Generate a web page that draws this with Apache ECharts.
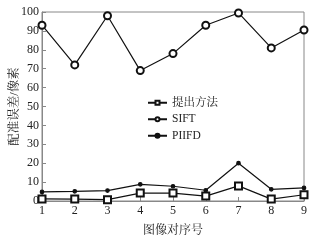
<!DOCTYPE html>
<html><head><meta charset="utf-8">
<script src="https://cdn.jsdelivr.net/npm/echarts@6/dist/echarts.min.js"></script>
<style>html,body{margin:0;padding:0;background:#fff}#c{width:322px;height:243px}</style>
</head><body><div id="c"></div>
<script>
var categories = ['1','2','3','4','5','6','7','8','9'];
var proposed = [1.1, 1.0, 0.7, 4.2, 4.2, 2.6, 8.0, 1.0, 3.3];
var sift = [93, 72, 98, 69, 78, 93, 99.5, 81, 90.5];
var piifd = [4.8, 5.1, 5.5, 8.8, 7.8, 5.7, 20, 6.2, 6.9];
var seriesNames = ['提出方法', 'SIFT', 'PIIFD'];
var xName = '图像对序号';
var yName = '配准误差/像素';

var font = "'Liberation Serif','Noto Serif CJK SC','Noto Sans CJK SC',serif";
var chart = echarts.init(document.getElementById('c'));
function mk(name, data, symbol, size) {
  return {
    name: name, type: 'line', data: data, symbol: symbol, symbolSize: size,
    lineStyle: {color: '#111', width: 1.2},
    itemStyle: {color: '#111', borderColor: '#111', borderWidth: 1.2},
    animation: false
  };
}
chart.setOption({
  backgroundColor: '#fff',
  grid: {left: 42, right: 18, top: 12, bottom: 42, outerBoundsMode: 'none', containLabel: false,
         show: true, borderColor: '#888', borderWidth: 1},
  legend: {
    orient: 'vertical', left: 142, top: 92, itemWidth: 19, itemHeight: 5, itemGap: 5,
    textStyle: {fontFamily: font, fontSize: 11.5, color: '#222'},
    data: seriesNames
  },
  xAxis: {
    type: 'category', data: categories, boundaryGap: false,
    axisLine: {lineStyle: {color: '#888'}},
    axisTick: {inside: true, length: 4, lineStyle: {color: '#888'}},
    axisLabel: {fontFamily: font, fontSize: 12, color: '#222', margin: 4},
    name: xName, nameLocation: 'middle', nameGap: 24, nameMoveOverlap: false,
    nameTextStyle: {fontFamily: font, fontSize: 12, color: '#222'}
  },
  yAxis: {
    type: 'value', min: 0, max: 100, interval: 10,
    splitLine: {show: false},
    axisLine: {show: true, lineStyle: {color: '#888'}},
    axisTick: {show: true, inside: true, length: 4, lineStyle: {color: '#888'}},
    axisLabel: {fontFamily: font, fontSize: 12, color: '#222', margin: 3},
    name: yName, nameLocation: 'middle', nameGap: 27, nameRotate: 90, nameMoveOverlap: false,
    nameTextStyle: {fontFamily: font, fontSize: 12.5, color: '#222', verticalAlign: 'middle'}
  },
  series: [
    mk(seriesNames[0], proposed, 'emptyRect', 7),
    mk(seriesNames[1], sift, 'emptyCircle', 7),
    mk(seriesNames[2], piifd, 'circle', 3.5)
  ]
});
</script></body></html>
